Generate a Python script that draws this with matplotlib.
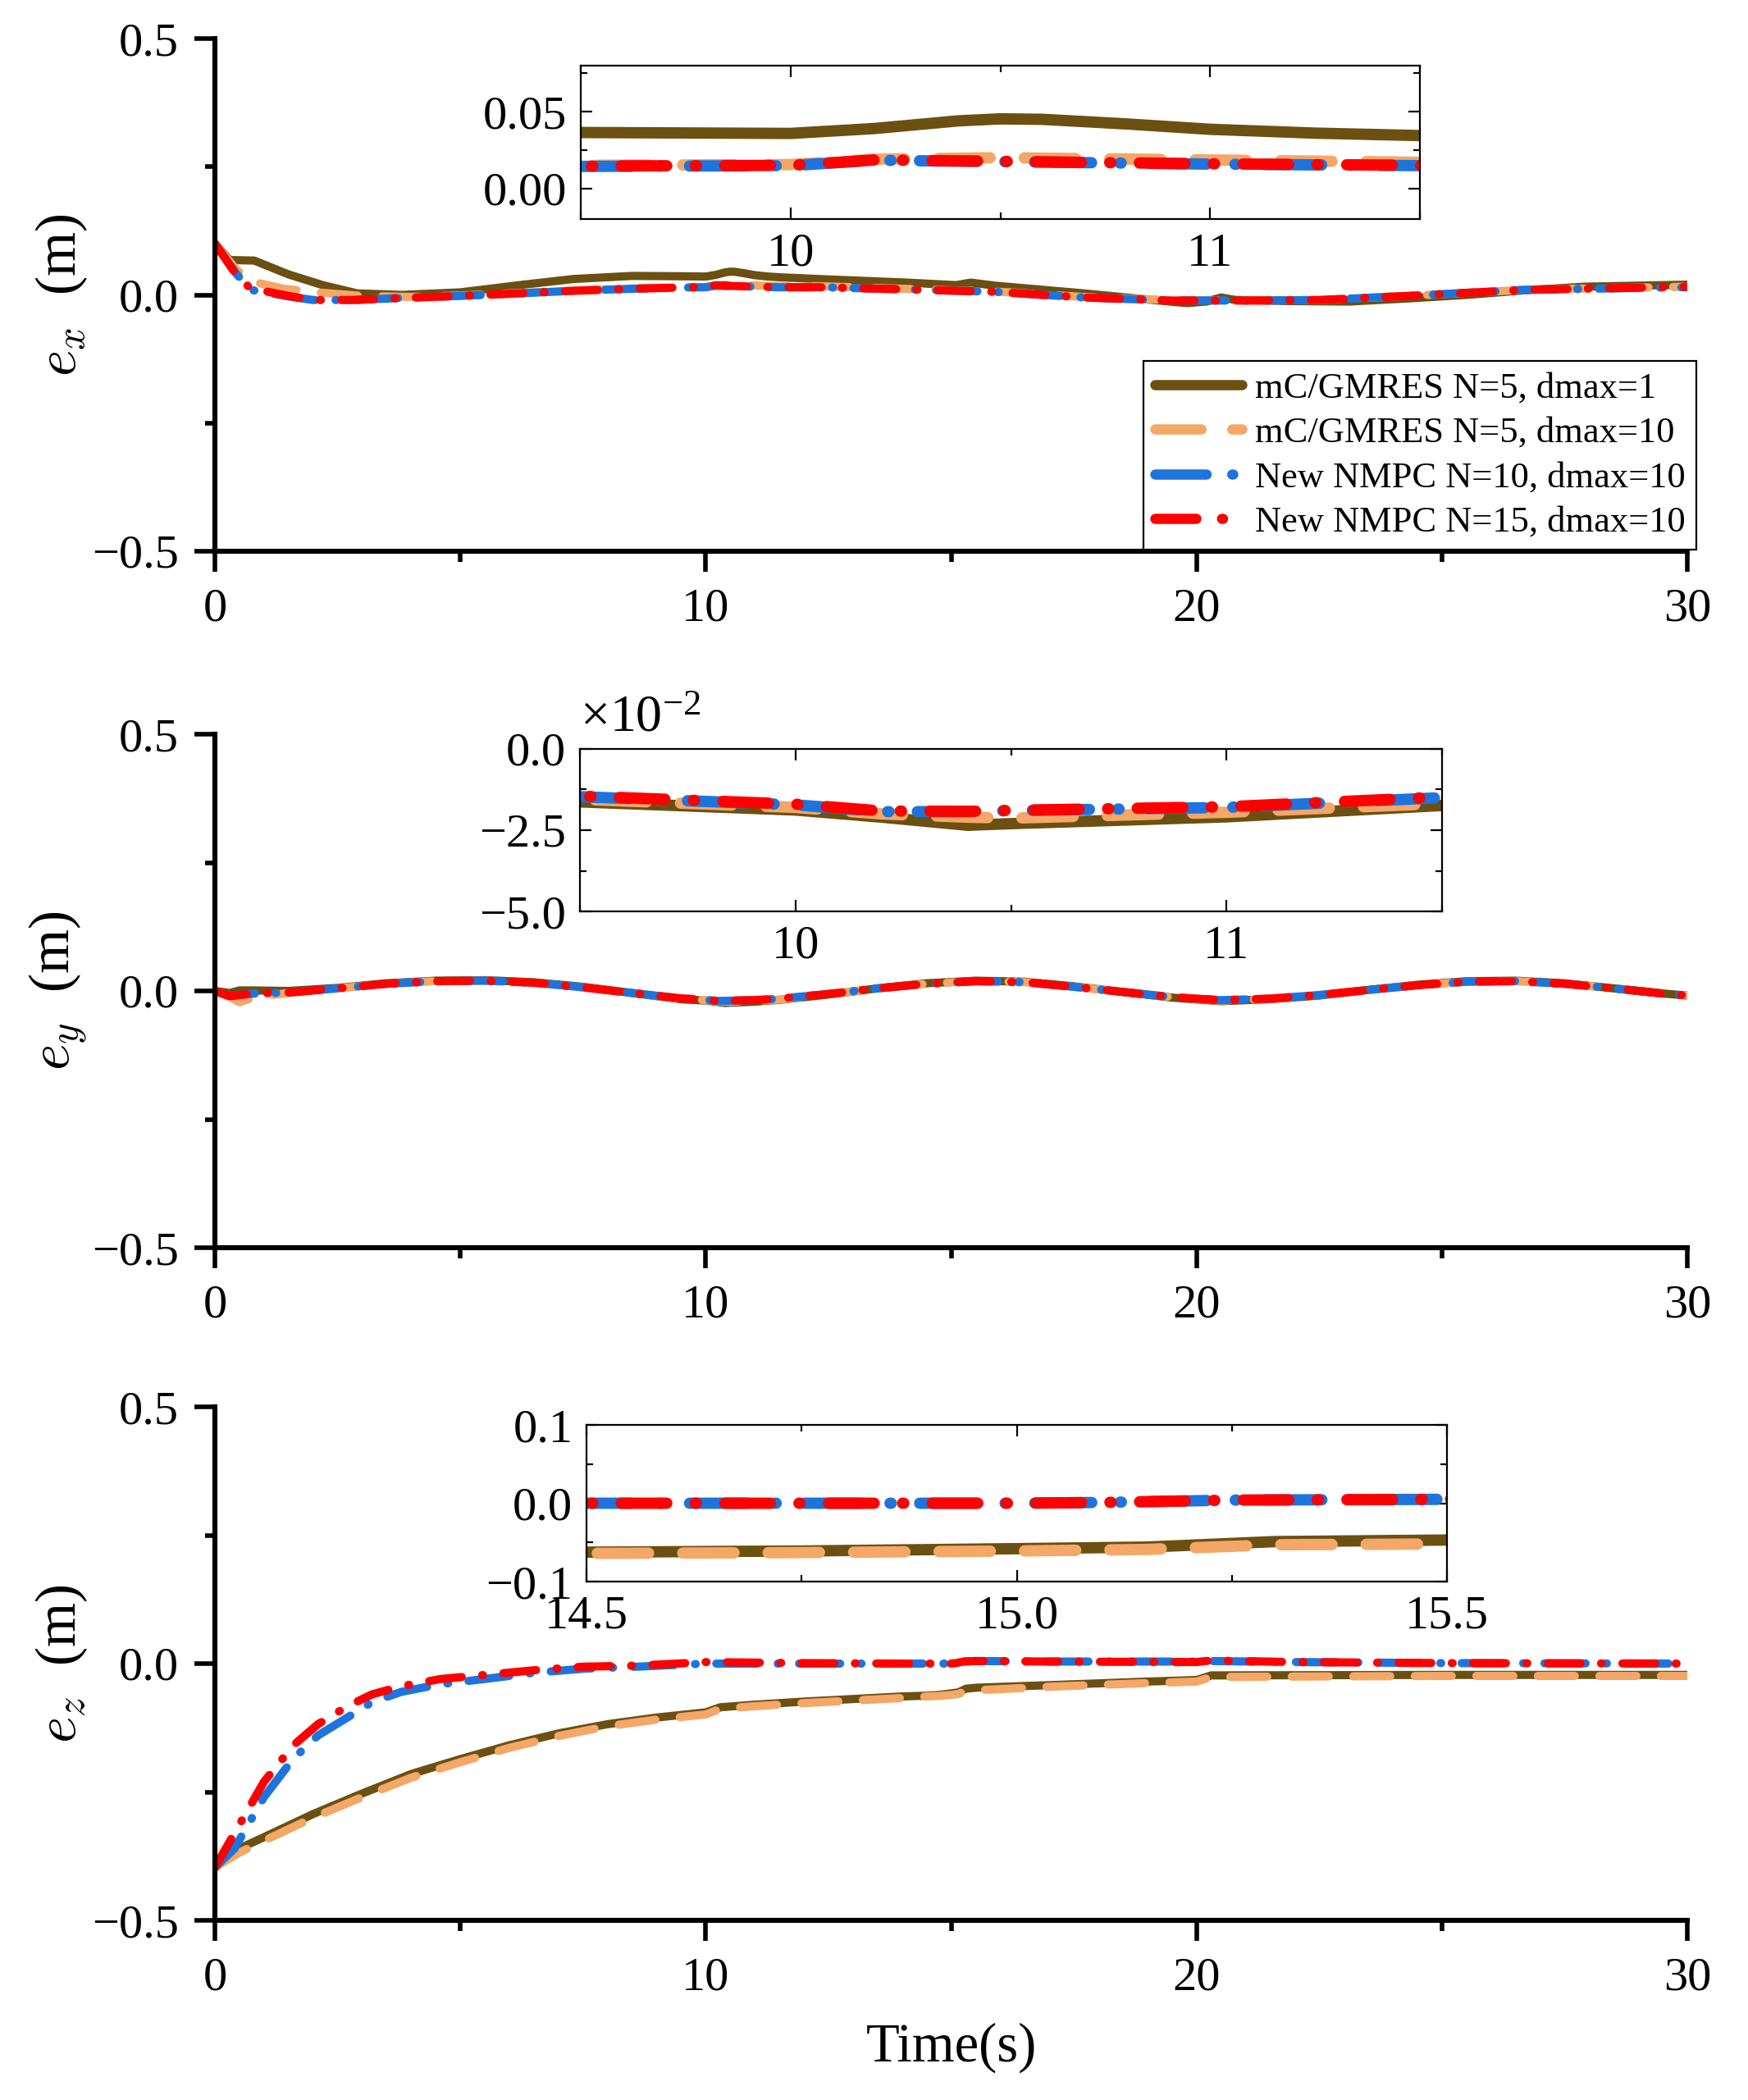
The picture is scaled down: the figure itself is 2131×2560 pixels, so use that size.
import numpy as np
import matplotlib
matplotlib.use("Agg")
import matplotlib.pyplot as plt
from matplotlib.ticker import MultipleLocator, FuncFormatter

plt.rcParams['font.family'] = ['Liberation Serif', 'DejaVu Serif']
plt.rcParams['mathtext.fontset'] = 'cm'

labels = ["mC/GMRES N=5, dmax=1", "mC/GMRES N=5, dmax=10",
          "New NMPC N=10, dmax=10", "New NMPC N=15, dmax=10"]
colors = ["#6B5012", "#F4A766", "#1E74DC", "#FF0000"]

# ---- e_x ----
tx_a = [0, 0.3, 0.8, 1.5, 2.2, 2.9, 3.8, 5.0, 6.2, 7.3, 8.5, 9.5, 10.0, 10.2, 10.4, 10.5,
        10.6, 10.8, 11.0, 11.25, 11.5, 12.3, 14.1, 15.1, 15.4, 15.9, 17.7, 18.9, 19.8,
        20.2, 20.5, 20.8, 21.9, 23.1, 24.3, 25.5, 26.7, 27.9, 30]
ex_a = [0.10, 0.068, 0.067, 0.040, 0.019, 0.003, 0.0, 0.005, 0.019, 0.031, 0.037, 0.0364,
        0.0358, 0.039, 0.044, 0.0453, 0.045, 0.042, 0.0385, 0.036, 0.0344, 0.031, 0.024,
        0.019, 0.024, 0.018, 0.003, -0.008, -0.016, -0.013, -0.005, -0.010, -0.012, -0.013,
        -0.007, 0.0, 0.009, 0.016, 0.020]
tx_b = [0, 0.45, 0.8, 1.4, 2.2, 3.0, 4.0, 5.0, 6.5, 8.0, 9.5, 10.0, 10.2, 10.5, 11.0, 11.5,
        12.3, 14.0, 16.0, 17.7, 19.5, 21.0, 22.5, 24.3, 26.7, 30]
ex_b = [0.10, 0.048, 0.025, 0.012, 0.004, -0.002, -0.004, -0.001, 0.005, 0.011, 0.015,
        0.0155, 0.019, 0.020, 0.0185, 0.017, 0.017, 0.012, 0.006, -0.004, -0.010, -0.011,
        -0.010, -0.002, 0.010, 0.016]
tx_cd = [0, 0.43, 0.72, 1.5, 2.0, 2.8, 3.8, 5.0, 6.2, 7.3, 8.5, 9.5, 10.0, 10.2, 10.5, 11.0,
         11.5, 12.3, 14.0, 15.9, 17.7, 19.5, 21.0, 22.5, 24.3, 26.7, 30]
ex_c = [0.10, 0.042, 0.010, -0.003, -0.010, -0.010, -0.006, -0.002, 0.003, 0.008, 0.012,
        0.0143, 0.0148, 0.0183, 0.0174, 0.0158, 0.0148, 0.015, 0.011, 0.006, -0.005, -0.011,
        -0.011, -0.010, -0.002, 0.010, 0.015]
ex_d = [0.10, 0.040, 0.013, -0.002, -0.010, -0.010, -0.006, -0.002, 0.003, 0.008, 0.012,
        0.0145, 0.015, 0.0185, 0.0176, 0.016, 0.015, 0.015, 0.011, 0.006, -0.005, -0.011,
        -0.011, -0.010, -0.002, 0.010, 0.016]

# ---- e_y ----
ty = [0, 0.3, 0.5, 0.8, 1.5, 2.5, 3.5, 4.5, 5.5, 6.5, 7.5, 8.5, 9.5, 10.0, 10.2, 10.4, 10.5,
      11.0, 11.5, 12.5, 13.5, 14.5, 15.5, 16.5, 17.5, 18.5, 19.5, 20.5, 21.5, 22.5, 23.5,
      24.5, 25.5, 26.5, 27.5, 28.5, 29.5, 30]
ey_a = [0, -0.004, 0.001, 0.001, 0.0, 0.006, 0.015, 0.020, 0.021, 0.017, 0.008, -0.004,
        -0.0163, -0.0188, -0.021, -0.0235, -0.023, -0.0209, -0.0174, -0.007, 0.005, 0.015,
        0.020, 0.018, 0.009, -0.002, -0.013, -0.020, -0.016, -0.009, 0.002, 0.012, 0.019,
        0.020, 0.015, 0.005, -0.005, -0.009]
ey_b = [0, -0.012, -0.022, -0.012, -0.004, 0.005, 0.014, 0.019, 0.020, 0.016, 0.007, -0.004,
        -0.0155, -0.018, -0.020, -0.021, -0.0213, -0.0195, -0.0168, -0.006, 0.005, 0.014,
        0.019, 0.017, 0.008, -0.002, -0.012, -0.019, -0.015, -0.008, 0.002, 0.011, 0.018,
        0.019, 0.014, 0.005, -0.005, -0.009]
ey_c = [0, -0.010, -0.008, -0.005, -0.003, 0.005, 0.014, 0.019, 0.020, 0.016, 0.007, -0.004,
        -0.0147, -0.0172, -0.0193, -0.0193, -0.019, -0.018, -0.015, -0.006, 0.005, 0.014,
        0.019, 0.017, 0.008, -0.002, -0.012, -0.018, -0.015, -0.008, 0.002, 0.011, 0.018,
        0.019, 0.014, 0.005, -0.005, -0.009]
ey_d = [0, -0.010, -0.008, -0.005, -0.003, 0.005, 0.014, 0.019, 0.020, 0.016, 0.007, -0.004,
        -0.0145, -0.0170, -0.0191, -0.0192, -0.0189, -0.0178, -0.0148, -0.006, 0.005, 0.014,
        0.019, 0.017, 0.008, -0.002, -0.012, -0.018, -0.015, -0.008, 0.002, 0.011, 0.018,
        0.019, 0.014, 0.005, -0.005, -0.009]

# ---- e_z ----
tz_ab = [0, 0.5, 1, 2, 3, 4, 5, 6, 7, 8, 9, 10, 10.3, 11, 12, 13, 14, 14.5, 14.75, 15.0,
         15.15, 15.3, 15.5, 17, 19, 20.0, 20.3, 25, 30]
ez_a = [-0.397, -0.36, -0.338, -0.293, -0.253, -0.215, -0.186, -0.159, -0.136, -0.118,
        -0.105, -0.095, -0.085, -0.080, -0.074, -0.069, -0.064, -0.0625, -0.061, -0.058,
        -0.056, -0.049, -0.047, -0.042, -0.035, -0.032, -0.023, -0.022, -0.022]
ez_b = [-0.397, -0.368, -0.345, -0.300, -0.260, -0.222, -0.192, -0.164, -0.141, -0.122,
        -0.109, -0.099, -0.088, -0.083, -0.077, -0.072, -0.067, -0.064, -0.063, -0.061,
        -0.059, -0.053, -0.052, -0.045, -0.038, -0.035, -0.026, -0.024, -0.024]
tz_cd = [0, 0.4, 1, 1.6, 2.1, 2.7, 3.2, 3.8, 4.6, 5.5, 6.5, 7.5, 8.6, 10, 12, 14, 14.5, 15.0,
         15.1, 15.25, 15.5, 17, 20, 20.3, 22, 25, 30]
ez_c = [-0.397, -0.36, -0.26, -0.185, -0.14, -0.105, -0.075, -0.055, -0.04, -0.03, -0.018,
        -0.01, -0.006, 0.0, 0.0, 0.0, 0.0, 0.0, 0.001, 0.004, 0.005, 0.004, 0.004, 0.005,
        0.003, 0.001, 0.0]
ez_d = [-0.397, -0.33, -0.23, -0.159, -0.118, -0.083, -0.06, -0.044, -0.03, -0.022, -0.013,
        -0.006, -0.004, 0.003, 0.001, 0.0, 0.0, 0.0, 0.001, 0.004, 0.005, 0.004, 0.003, 0.006,
        0.003, 0.001, 0.0]

styles = [dict(ls='-'),
          dict(ls=(0, (4.5, 3.0))),
          dict(ls=(0, (5.0, 2.5, 0.1, 2.5))),
          dict(ls=(0, (4.0, 2.5, 0.1, 2.5)))]

panels = [
    ([tx_a, tx_b, tx_cd, tx_cd], [ex_a, ex_b, ex_c, ex_d], r'$e_x$  (m)'),
    ([ty, ty, ty, ty], [ey_a, ey_b, ey_c, ey_d], r'$e_y$  (m)'),
    ([tz_ab, tz_ab, tz_cd, tz_cd], [ez_a, ez_b, ez_c, ez_d], r'$e_z$  (m)'),
]

W, H = 2131, 2560
fig = plt.figure(figsize=(W / 200, H / 200), dpi=200)

main_pos = [(47, 672), (895, 1521), (1715, 2341)]
inset_pos = [(708, 80, 1731, 267), (707, 913, 1758, 1111), (715, 1737, 1764, 1928)]
inset_lims = [((9.5, 11.5), (-0.02, 0.08), 1.0, 0.5, 0.05, 0.025),
              ((9.5, 11.5), (-0.05, 0.0), 1.0, 0.5, 0.025, 0.0125),
              ((14.5, 15.5), (-0.1, 0.1), 0.5, 0.25, 0.1, 0.05)]


def minus(s):
    return s.replace('-', '\u2212')


main_axes = []
for i, (ts, ys, ylab) in enumerate(panels):
    top, bot = main_pos[i]
    ax = fig.add_axes([262 / W, 1 - bot / H, 1795 / W, (bot - top) / H])
    for t, y, c, st, lab in zip(ts, ys, colors, styles, labels):
        ax.plot(t, y, color=c, lw=3.6, label=lab, dash_capstyle='round',
                solid_capstyle='round', **st)
    ax.set_xlim(0, 30)
    ax.set_ylim(-0.5, 0.5)
    for s in ['top', 'right']:
        ax.spines[s].set_visible(False)
    for s in ['left', 'bottom']:
        ax.spines[s].set_linewidth(2.2)
    ax.xaxis.set_major_locator(MultipleLocator(10))
    ax.xaxis.set_minor_locator(MultipleLocator(5))
    ax.yaxis.set_major_locator(MultipleLocator(0.5))
    ax.yaxis.set_minor_locator(MultipleLocator(0.25))
    ax.tick_params(which='major', direction='out', length=9, width=2, labelsize=21, pad=7)
    ax.tick_params(which='minor', direction='out', length=4.5, width=2)
    ax.yaxis.set_major_formatter(FuncFormatter(lambda v, p: minus(f'{v:.1f}')))
    ax.set_ylabel(ylab, fontsize=25)
    ax.yaxis.set_label_coords(-0.085, 0.5)
    main_axes.append(ax)

    # inset
    x0, y0, x1, y1 = inset_pos[i]
    xl, yl, xmj, xmn, ymj, ymn = inset_lims[i]
    ins = fig.add_axes([x0 / W, 1 - y1 / H, (x1 - x0) / W, (y1 - y0) / H])
    for t, y, c, st in zip(ts, ys, colors, styles):
        ins.plot(t, y, color=c, lw=5.0, dash_capstyle='round', solid_capstyle='butt', **st)
    ins.set_xlim(*xl)
    ins.set_ylim(*yl)
    for s in ins.spines.values():
        s.set_linewidth(0.8)
    ins.xaxis.set_major_locator(MultipleLocator(xmj))
    ins.xaxis.set_minor_locator(MultipleLocator(xmn))
    ins.yaxis.set_major_locator(MultipleLocator(ymj))
    ins.yaxis.set_minor_locator(MultipleLocator(ymn))
    ins.tick_params(which='both', direction='in', top=True, right=True, width=0.8)
    ins.tick_params(which='major', length=5, labelsize=21, pad=6)
    ins.tick_params(which='minor', length=3)
    if i == 0:
        ins.xaxis.set_major_formatter(FuncFormatter(lambda v, p: f'{v:.0f}'))
        ins.yaxis.set_major_formatter(FuncFormatter(lambda v, p: minus(f'{v:.2f}')))
    elif i == 1:
        ins.xaxis.set_major_formatter(FuncFormatter(lambda v, p: f'{v:.0f}'))
        ins.yaxis.set_major_formatter(FuncFormatter(lambda v, p: minus(f'{v * 100:.1f}')))
        ins.text(0.0, 1.04, r'$\mathregular{\times10^{-2}}$', transform=ins.transAxes,
                 fontsize=23, ha='left', va='bottom')
    else:
        ins.xaxis.set_major_formatter(FuncFormatter(lambda v, p: f'{v:.1f}'))
        ins.yaxis.set_major_formatter(FuncFormatter(lambda v, p: minus(f'{v:.1f}')))

main_axes[2].set_xlabel('Time(s)', fontsize=24, labelpad=10)

handles, labs = main_axes[0].get_legend_handles_labels()
leg = fig.legend(handles, labs, loc='lower right', bbox_to_anchor=(2068 / W, 1 - 670 / H),
                 bbox_transform=fig.transFigure, fontsize=16, frameon=True, fancybox=False,
                 framealpha=1, edgecolor='black', borderpad=0.3, labelspacing=0.32,
                 handlelength=2.4, handletextpad=0.35, borderaxespad=0)
leg.get_frame().set_linewidth(0.8)
for ln in leg.get_lines():
    ln.set_linewidth(4.5)

fig.savefig('out.png', dpi=200)
